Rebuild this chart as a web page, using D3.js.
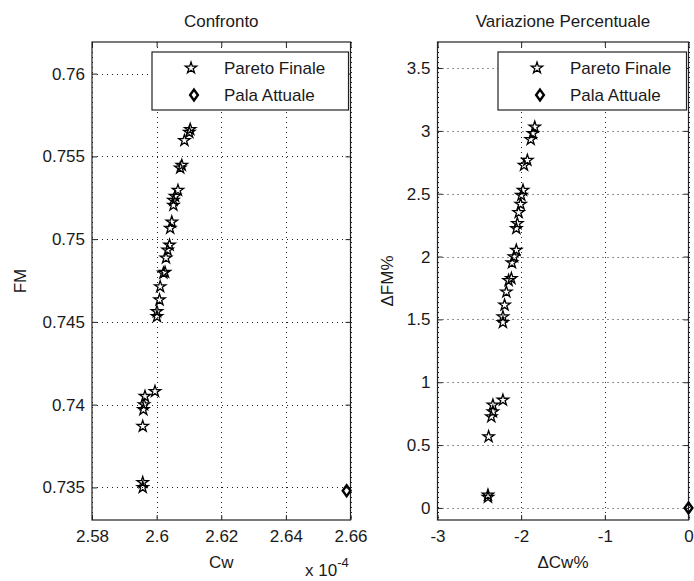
<!DOCTYPE html>
<html>
<head>
<meta charset="utf-8">
<script src="https://cdn.jsdelivr.net/npm/d3@7"></script>
<style>
	body { margin: 0; background: #fff; }
	text { font-family: "Liberation Sans", Arial, sans-serif; fill: #1a1a1a; }
</style>
</head>
<body>
<svg id="chart" width="694" height="581"></svg>
<script>

// --- data ---

// Confronto: Cw (x 10^-4) and FM of the final Pareto front
const cw = [2.6104, 2.6101, 2.6086, 2.6078, 2.6073, 2.6066, 2.6057, 2.6052, 2.6052, 2.6047,
	2.6042, 2.6040, 2.6034, 2.6029, 2.6021, 2.6026, 2.6011, 2.6009, 2.6001, 2.6001,
	2.5995, 2.5964, 2.5961, 2.5959, 2.5957, 2.5957, 2.5957];
const fm = [0.75663, 0.75645, 0.75596, 0.75446, 0.75430, 0.75295, 0.75259, 0.75235, 0.75205, 0.75104,
	0.75066, 0.74964, 0.74934, 0.74886, 0.74795, 0.74800, 0.74713, 0.74633, 0.74562, 0.74532,
	0.74080, 0.74050, 0.74000, 0.73970, 0.73869, 0.73530, 0.73500];

// current blade
const cwAttuale = [2.6588];
const fmAttuale = [0.7348];

// Variazione Percentuale
const dCw = [-1.838, -1.860, -1.886, -1.926, -1.966, -1.978, -1.998, -2.006, -2.030, -2.046,
	-2.058, -2.058, -2.086, -2.110, -2.117, -2.150, -2.177, -2.198, -2.218, -2.218,
	-2.218, -2.338, -2.338, -2.357, -2.389, -2.397, -2.397];
const dFm = [3.031, 2.980, 2.931, 2.766, 2.727, 2.528, 2.488, 2.417, 2.350, 2.263,
	2.223, 2.051, 1.998, 1.950, 1.826, 1.810, 1.719, 1.614, 1.521, 1.476,
	0.858, 0.819, 0.766, 0.726, 0.567, 0.103, 0.085];

const dCwAttuale = [0];
const dFmAttuale = [0];

// ticks
const cwTicks = [2.58, 2.6, 2.62, 2.64, 2.66];
const cwTickLabels = ["2.58", "2.6", "2.62", "2.64", "2.66"];
const fmTicks = [0.735, 0.74, 0.745, 0.75, 0.755, 0.76];
const fmTickLabels = ["0.735", "0.74", "0.745", "0.75", "0.755", "0.76"];
const dCwTicks = [-3, -2, -1, 0];
const dCwTickLabels = ["-3", "-2", "-1", "0"];
const dFmTicks = [0, 0.5, 1, 1.5, 2, 2.5, 3, 3.5];
const dFmTickLabels = ["0", "0.5", "1", "1.5", "2", "2.5", "3", "3.5"];

const seriesNames = ["Pareto Finale", "Pala Attuale"];

// --- drawing ---

const svg = d3.select("#chart");
const FONT = 17;
const TICK = 5;

// MATLAB-like diamond (slightly taller than wide)
const diamond = {
	draw: function(ctx, size) {
		const h = Math.sqrt(size) * 0.75, w = h * 0.72;
		ctx.moveTo(0, -h);
		ctx.lineTo(w, 0);
		ctx.lineTo(0, h);
		ctx.lineTo(-w, 0);
		ctx.closePath();
	}
};
const starPath = d3.symbol().type(d3.symbolStar).size(40)();
const diamondPath = d3.symbol().type(diamond).size(52)();

function drawPanel(o) {

	const x = d3.scaleLinear().domain(o.xDomain).range([o.left, o.right]);
	const y = d3.scaleLinear().domain(o.yDomain).range([o.bottom, o.top]);

	const g = svg.append("g");

	// dotted grid
	g.append("g").selectAll("line").data(o.xTicks).join("line")
		.attr("x1", d => Math.round(x(d)) + 0.5).attr("x2", d => Math.round(x(d)) + 0.5)
		.attr("y1", o.top).attr("y2", o.bottom)
		.attr("stroke", "#222").attr("stroke-dasharray", "1,4");
	g.append("g").selectAll("line").data(o.yTicks).join("line")
		.attr("y1", d => Math.round(y(d)) + 0.5).attr("y2", d => Math.round(y(d)) + 0.5)
		.attr("x1", o.left).attr("x2", o.right)
		.attr("stroke", "#222").attr("stroke-dasharray", "1,4");

	// axes, ticks pointing inward on all four sides
	const fmtX = d => o.xLabels[o.xTicks.indexOf(d)];
	const fmtY = d => o.yLabels[o.yTicks.indexOf(d)];

	const axes = [
		[d3.axisBottom(x).tickFormat(fmtX).tickPadding(10), "translate(0," + o.bottom + ")"],
		[d3.axisTop(x).tickFormat(""), "translate(0," + o.top + ")"],
		[d3.axisLeft(y).tickFormat(fmtY).tickPadding(7), "translate(" + o.left + ",0)"],
		[d3.axisRight(y).tickFormat(""), "translate(" + o.right + ",0)"]
	];
	axes.forEach(function(a, i) {
		a[0].tickValues(i < 2 ? o.xTicks : o.yTicks).tickSizeInner(-TICK).tickSizeOuter(0);
		const ax = g.append("g").attr("transform", a[1]).call(a[0]);
		ax.select(".domain").remove();
		ax.selectAll("line").attr("stroke", "#222");
		ax.selectAll("text").style("font-size", FONT + "px").attr("fill", "#1a1a1a");
	});

	// frame
	g.append("rect")
		.attr("x", o.left).attr("y", o.top)
		.attr("width", o.right - o.left).attr("height", o.bottom - o.top)
		.attr("fill", "none").attr("stroke", "#222").attr("stroke-width", 1.2);

	// points
	g.append("g").selectAll("path").data(o.xs).join("path")
		.attr("d", starPath)
		.attr("transform", (d, i) => "translate(" + x(d) + "," + y(o.ys[i]) + ")")
		.attr("fill", "none").attr("stroke", "#000").attr("stroke-width", 1.3);

	g.append("g").selectAll("path").data(o.x0).join("path")
		.attr("d", diamondPath)
		.attr("transform", (d, i) => "translate(" + x(d) + "," + y(o.y0[i]) + ")")
		.attr("fill", "none").attr("stroke", "#000").attr("stroke-width", 2.4);

	// title and labels
	const cx = (o.left + o.right) / 2;
	g.append("text").attr("x", cx).attr("y", 27)
		.attr("text-anchor", "middle").style("font-size", FONT + "px").text(o.title);
	g.append("text").attr("x", cx).attr("y", 568)
		.attr("text-anchor", "middle").style("font-size", FONT + "px").text(o.xTitle);
	g.append("text")
		.attr("transform", "translate(" + o.yTitleX + "," + ((o.top + o.bottom) / 2) + ") rotate(-90)")
		.attr("text-anchor", "middle").style("font-size", FONT + "px").text(o.yTitle);

	// legend
	const lg = g.append("g").attr("transform", "translate(" + o.legendX + ",52)");
	lg.append("rect").attr("width", o.right - 2 - o.legendX).attr("height", 58)
		.attr("fill", "#fff").attr("stroke", "#222").attr("stroke-width", 1.2);
	lg.append("path").attr("d", starPath).attr("transform", "translate(39,16)")
		.attr("fill", "none").attr("stroke", "#000").attr("stroke-width", 1.3);
	lg.append("path").attr("d", diamondPath).attr("transform", "translate(42,43)")
		.attr("fill", "none").attr("stroke", "#000").attr("stroke-width", 2.4);
	lg.selectAll("text.name").data(seriesNames).join("text")
		.attr("class", "name")
		.attr("x", 72).attr("y", (d, i) => 22 + i * 27)
		.style("font-size", FONT + "px").text(d => d);

	return g;
}

drawPanel({
	left: 92, right: 350.5, top: 42, bottom: 520,
	xDomain: [2.58, 2.66], yDomain: [0.73303, 0.76191],
	xTicks: cwTicks, xLabels: cwTickLabels, yTicks: fmTicks, yLabels: fmTickLabels,
	xs: cw, ys: fm, x0: cwAttuale, y0: fmAttuale,
	title: "Confronto", xTitle: "Cw", yTitle: "FM", yTitleX: 26,
	legendX: 152
});

drawPanel({
	left: 437.5, right: 688.5, top: 42, bottom: 520,
	xDomain: [-3, 0], yDomain: [-0.096, 3.707],
	xTicks: dCwTicks, xLabels: dCwTickLabels, yTicks: dFmTicks, yLabels: dFmTickLabels,
	xs: dCw, ys: dFm, x0: dCwAttuale, y0: dFmAttuale,
	title: "Variazione Percentuale", xTitle: "\u0394Cw%", yTitle: "\u0394FM%", yTitleX: 393,
	legendX: 498
});

// exponent for the Cw axis
const expo = svg.append("text").attr("x", 305).attr("y", 576).style("font-size", FONT + "px");
expo.append("tspan").text("x 10");
expo.append("tspan").attr("dy", -9).style("font-size", "13px").text("-4");

</script>
</body>
</html>
